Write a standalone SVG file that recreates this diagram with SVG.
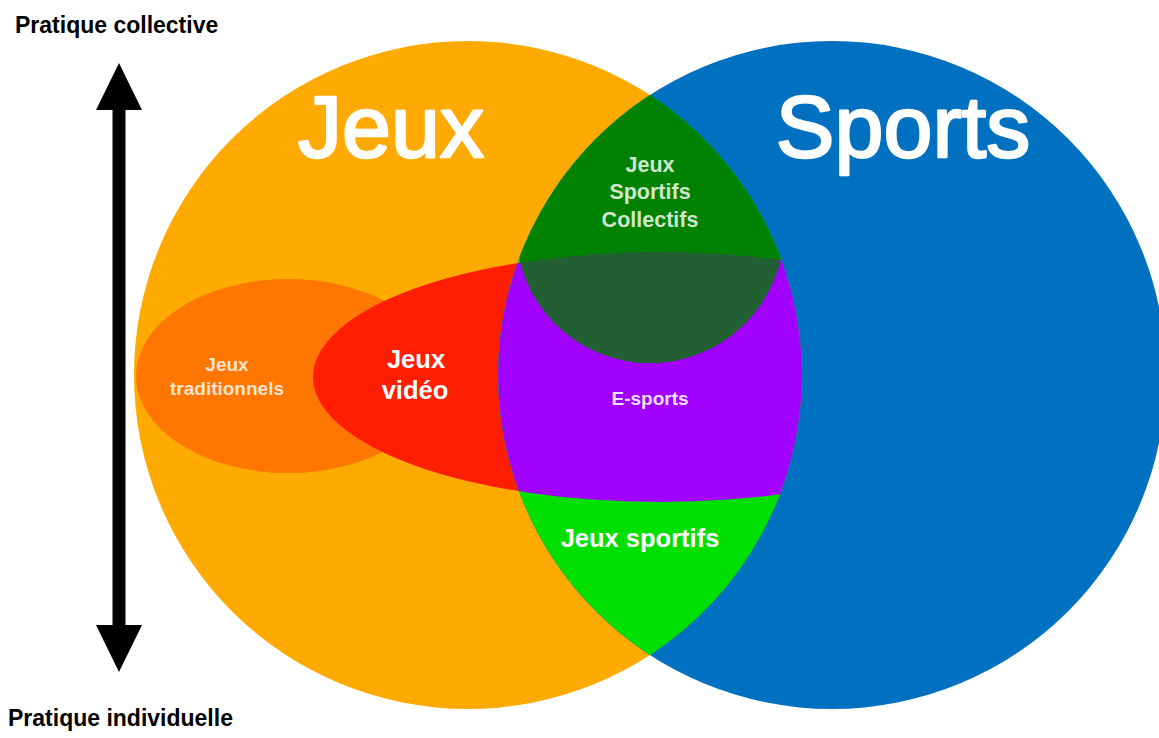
<svg xmlns="http://www.w3.org/2000/svg" width="1159" height="738" viewBox="0 0 1159 738">
<style>
  .lbl{font-family:"Liberation Sans",Arial,Helvetica,sans-serif;font-weight:bold;text-anchor:middle;fill:#fff}
  .big{font-family:"Liberation Sans",Arial,Helvetica,sans-serif;font-size:88px;text-anchor:middle;fill:#fff;stroke:#fff;stroke-width:2.5;stroke-linejoin:round}
  .axis{font-family:"Liberation Sans",Arial,Helvetica,sans-serif;font-weight:bold;font-size:23px;fill:#000}
  .soft{fill-opacity:0.82}
</style>
<defs>
  <clipPath id="lensClip"><path d="M650,95 A334,334 0 0 1 650,655 A334,334 0 0 1 650,95 Z"/></clipPath>
  <clipPath id="videoClip"><ellipse cx="660" cy="377" rx="347" ry="125"/></clipPath>
</defs>
<rect width="1159" height="738" fill="#fff"/>

<g id="jeux">
  <circle cx="468" cy="375" r="334" fill="#FFAA00"/>
</g>
<g id="jeux-traditionnels">
  <ellipse cx="288" cy="376" rx="152" ry="97" fill="#FF7700"/>
</g>
<g id="jeux-video">
  <ellipse cx="660" cy="377" rx="347" ry="125" fill="#FF1E00"/>
</g>
<g id="sports">
  <circle cx="832" cy="375" r="334" fill="#0070C0"/>
</g>
<g id="jeux-sportifs" clip-path="url(#lensClip)">
  <rect x="480" y="90" width="340" height="570" fill="#00E000"/>
</g>
<g id="e-sports" clip-path="url(#lensClip)">
  <ellipse cx="660" cy="377" rx="347" ry="125" fill="#A100FF"/>
</g>
<g id="jeux-sportifs-collectifs" clip-path="url(#lensClip)">
  <circle cx="650" cy="229" r="134" fill="#008200"/>
  <g clip-path="url(#videoClip)">
    <circle cx="650" cy="229" r="134" fill="#225F33"/>
  </g>
</g>

<g id="labels">
  <text class="big" x="391" y="157">Jeux</text>
  <text class="big" x="903" y="157">Sports</text>
  <text class="lbl soft" font-size="19" x="227" y="371">Jeux</text>
  <text class="lbl soft" font-size="19" x="227" y="395">traditionnels</text>
  <text class="lbl" font-size="25.5" x="416" y="368">Jeux</text>
  <text class="lbl" font-size="25.5" x="415" y="399">vidéo</text>
  <text class="lbl soft" font-size="21.5" x="650" y="172">Jeux</text>
  <text class="lbl soft" font-size="21.5" x="650" y="199">Sportifs</text>
  <text class="lbl soft" font-size="21.5" x="650" y="227">Collectifs</text>
  <text class="lbl" font-size="19" x="650" y="405" fill-opacity="0.9">E-sports</text>
  <text class="lbl" font-size="25.5" x="640" y="547">Jeux sportifs</text>
</g>

<g id="connectors">
  <path d="M119,63 L142,110 L125.5,110 L125.5,625 L142,625 L119,672 L96,625 L112.5,625 L112.5,110 L96,110 Z" fill="#000"/>
</g>
<g id="axis-labels">
  <text class="axis" x="15" y="33">Pratique collective</text>
  <text class="axis" x="8" y="726">Pratique individuelle</text>
</g>
</svg>
